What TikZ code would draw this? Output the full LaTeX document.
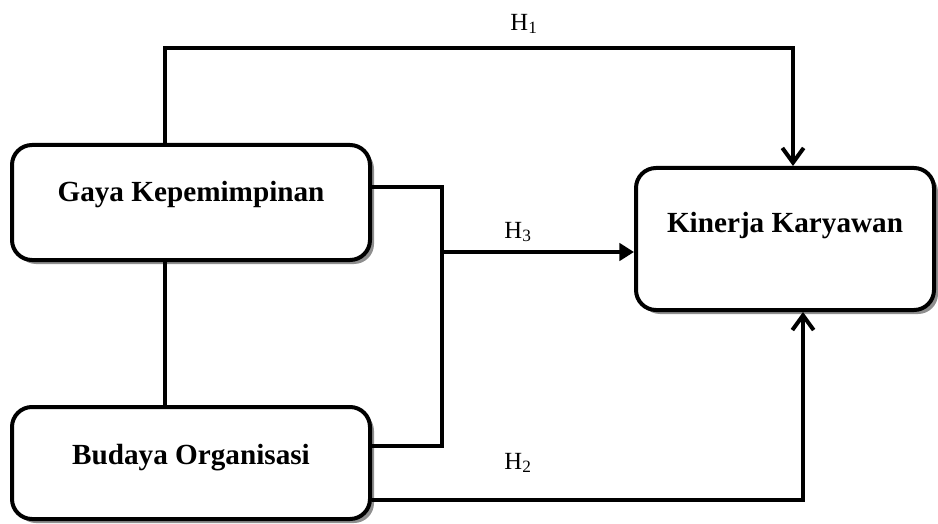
\documentclass[tikz,border=0pt]{standalone}
\usepackage{fontspec}
\setmainfont{Liberation Serif}
\usetikzlibrary{arrows.meta,shadows}
\begin{document}
\begin{tikzpicture}[x=0.75pt,y=-0.75pt,
  box/.style={draw=black,line width=3pt,rounded corners=15pt,fill=white,
    drop shadow={shadow xshift=3pt,shadow yshift=-3pt,fill=black!55,opacity=0.8}},
  boxtext/.style={font=\fontsize{21.9}{26}\selectfont\bfseries},
  conn/.style={line width=3pt},
  hlabel/.style={font=\fontsize{18.5}{22}\selectfont},
  barb/.style={-{Straight Barb[length=11pt,width=16pt,line width=3pt]}},
  tri/.style={-{Triangle[length=11pt,width=13pt]}}]
\useasboundingbox (0,0) rectangle (938,524);
\node[box,minimum width=358*0.75pt,minimum height=115*0.75pt] (g) at (191,202.5) {};
\node[box,minimum width=358*0.75pt,minimum height=112*0.75pt] (b) at (191,463) {};
\node[box,minimum width=298*0.75pt,minimum height=142*0.75pt] (k) at (785,239) {};
\node[boxtext] (gt) at (191,195) {Gaya Kepemimpinan};
\node[boxtext] (bt) at (191,458) {Budaya Organisasi};
\node[boxtext] (kt) at (785,226) {Kinerja Karyawan};
\coordinate (c1) at (165,48);
\coordinate (c2) at (793,48);
\coordinate (j1) at (442,187);
\coordinate (j2) at (442,446);
\coordinate (jm) at (442,252);
\coordinate (h2) at (803,500);
% H1
\draw[conn,barb] (g.north -| c1) -- (c1) -- (c2) -- (k.north -| c2);
% G-B link
\draw[conn] (g.south -| c1) -- (b.north -| c1);
% bracket
\draw[conn] (g.east |- j1) -- (j1) -- (j2) -- (b.east |- j2);
\draw[conn,tri] (jm) -- (k.west |- jm);
% H2
\draw[conn,barb] (b.east |- h2) -- (h2) -- (k.south -| h2);
\node[hlabel] (l1) at (524,24) {H\textsubscript{1}};
\node[hlabel] (l3) at (518,232) {H\textsubscript{3}};
\node[hlabel] (l2) at (518,463) {H\textsubscript{2}};
\end{tikzpicture}
\end{document}
